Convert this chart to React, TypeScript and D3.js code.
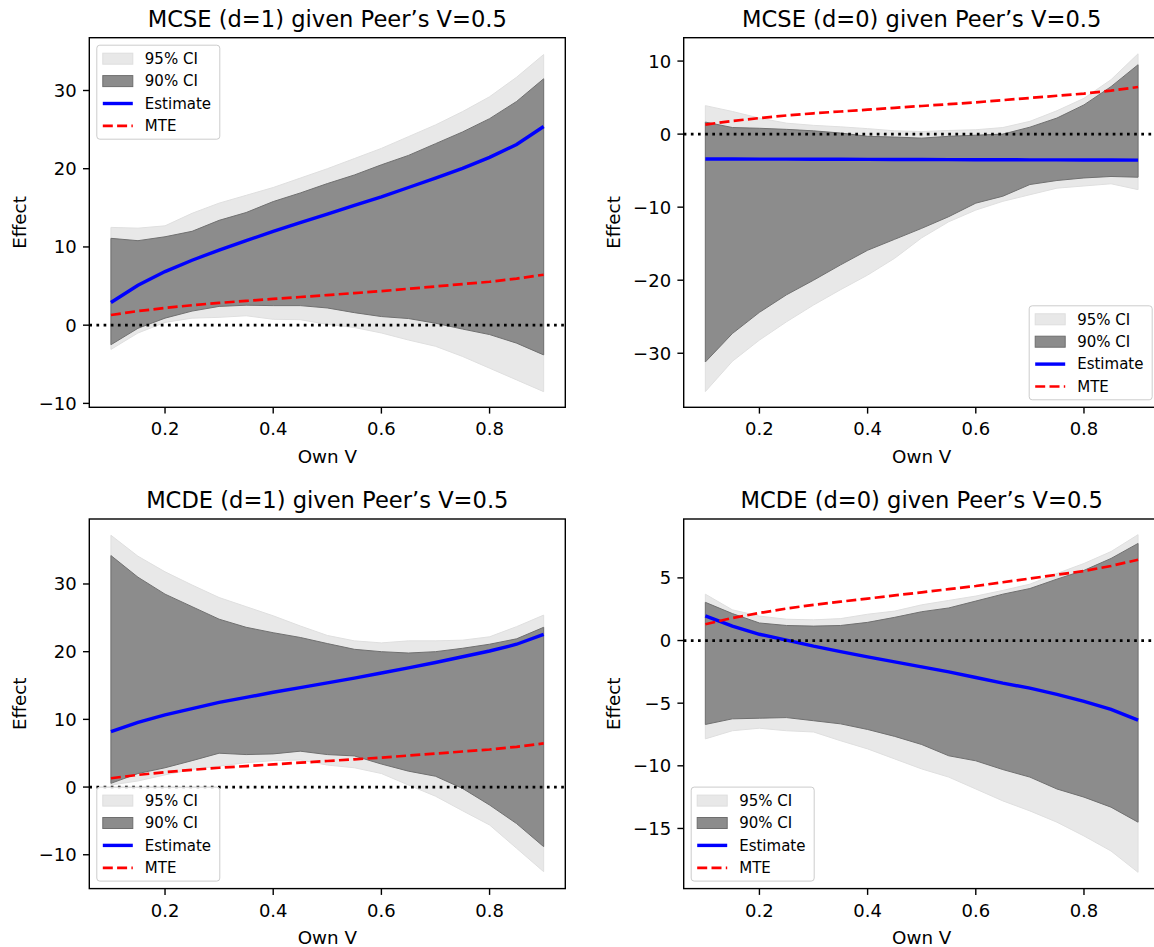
import * as d3 from 'd3';
import React from 'react';

// own V grid shared by every panel
const ownV = [0.1, 0.15, 0.2, 0.25, 0.3, 0.35, 0.4, 0.45, 0.5, 0.55, 0.6, 0.65, 0.7, 0.75, 0.8, 0.85, 0.9];
const mte = [1.3, 1.8, 2.2, 2.55, 2.85, 3.1, 3.35, 3.6, 3.85, 4.1, 4.35, 4.65, 4.95, 5.25, 5.55, 5.95, 6.45];

// MCSE d=1
const mcse1Est = [2.9, 5.1, 6.85, 8.3, 9.6, 10.8, 12.0, 13.1, 14.2, 15.3, 16.4, 17.6, 18.8, 20.05, 21.45, 23.1, 25.4];
const mcse1Hi90 = [11.1, 10.8, 11.3, 12.0, 13.4, 14.4, 15.8, 16.9, 18.1, 19.2, 20.5, 21.7, 23.2, 24.7, 26.4, 28.6, 31.5];
const mcse1Lo90 = [-2.5, -0.4, 0.9, 1.8, 2.4, 2.55, 2.5, 2.5, 2.2, 1.6, 1.1, 0.85, 0.25, -0.5, -1.2, -2.3, -3.8];
const mcse1Hi95 = [12.5, 12.4, 12.7, 14.3, 15.6, 16.6, 17.6, 18.8, 20.0, 21.3, 22.6, 24.1, 25.6, 27.3, 29.2, 31.7, 34.6];
const mcse1Lo95 = [-3.1, -1.0, 0.35, 0.9, 1.0, 1.2, 0.75, 0.7, 0.1, -0.3, -1.0, -1.9, -2.7, -4.0, -5.5, -7.0, -8.5];

// MCSE d=0
const mcse0Est = [-3.4, -3.41, -3.42, -3.43, -3.44, -3.45, -3.46, -3.47, -3.48, -3.49, -3.5, -3.51, -3.52, -3.53, -3.54, -3.55, -3.56];
const mcse0Hi90 = [1.65, 0.9, 0.8, 0.65, 0.45, 0.15, -0.3, -0.4, -0.55, -0.3, -0.15, 0, 0.95, 2.2, 4.0, 6.5, 9.5];
const mcse0Lo90 = [-31.2, -27.3, -24.4, -22.0, -20.0, -17.9, -15.9, -14.4, -12.9, -11.3, -9.45, -8.5, -6.9, -6.35, -6.0, -5.8, -5.9];
const mcse0Hi95 = [3.9, 3.1, 2.2, 1.5, 1.2, 1.0, 0.75, 0.45, 0.35, 0.5, 0.6, 0.9, 1.75, 3.2, 4.9, 7.45, 11.0];
const mcse0Lo95 = [-35.25, -31.1, -28.2, -25.7, -23.4, -21.3, -19.3, -17.0, -14.2, -12.0, -10.4, -9.2, -8.3, -7.4, -7.1, -6.8, -7.6];

// MCDE d=1
const mcde1Est = [8.2, 9.55, 10.65, 11.6, 12.5, 13.25, 14.0, 14.7, 15.4, 16.1, 16.85, 17.6, 18.4, 19.25, 20.1, 21.1, 22.55];
const mcde1Hi90 = [34.2, 31.0, 28.5, 26.65, 24.8, 23.6, 22.8, 22.1, 21.2, 20.35, 20.0, 19.8, 20.0, 20.5, 21.1, 21.9, 23.6];
const mcde1Lo90 = [0.55, 2.0, 2.85, 3.9, 5.0, 4.8, 4.9, 5.3, 4.8, 4.6, 3.4, 2.35, 1.6, -0.2, -2.65, -5.4, -8.8];
const mcde1Hi95 = [37.2, 34.1, 31.8, 29.85, 28.0, 26.65, 25.3, 23.8, 22.4, 21.6, 21.3, 21.6, 21.6, 21.7, 22.2, 23.7, 25.4];
const mcde1Lo95 = [0.3, 0.9, 1.8, 2.6, 3.1, 3.6, 3.9, 4.0, 3.25, 2.85, 2.0, 0.3, -1.35, -3.5, -5.6, -9.05, -12.5];

// MCDE d=0
const mcde0Est = [1.97, 1.15, 0.5, 0.03, -0.45, -0.88, -1.3, -1.7, -2.1, -2.5, -2.95, -3.4, -3.8, -4.3, -4.85, -5.5, -6.35];
const mcde0Hi90 = [3.05, 2.15, 1.4, 1.2, 1.15, 1.2, 1.45, 1.85, 2.3, 2.6, 3.15, 3.7, 4.15, 4.9, 5.6, 6.55, 7.75];
const mcde0Lo90 = [-6.7, -6.25, -6.2, -6.15, -6.4, -6.65, -7.1, -7.65, -8.3, -9.2, -9.6, -10.3, -10.9, -11.85, -12.5, -13.3, -14.5];
const mcde0Hi95 = [3.7, 2.45, 1.95, 1.7, 1.65, 1.75, 2.1, 2.35, 2.85, 3.2, 3.55, 4.0, 4.5, 5.35, 6.15, 7.1, 8.45];
const mcde0Lo95 = [-7.85, -7.2, -7.0, -7.2, -7.3, -8.0, -8.65, -9.45, -10.25, -10.9, -11.85, -12.8, -13.6, -14.5, -15.6, -16.8, -18.5];

const xTicks = [0.2, 0.4, 0.6, 0.8];
const legendLabels = ['95% CI', '90% CI', 'Estimate', 'MTE'];

const W = 1154;
const H = 947;
const AX_W = 476;
const AX_H = 369.6;
const FONT = 'DejaVu Sans, sans-serif';
const xDomain = [0.06, 0.94];

const panels = [
  { id: 'p1', title: 'MCSE (d=1) given Peer’s V=0.5', left: 89.3, top: 37.7, yDomain: [-10.5, 36.75], yTicks: [-10, 0, 10, 20, 30], legend: 'ul',
    est: mcse1Est, hi90: mcse1Hi90, lo90: mcse1Lo90, hi95: mcse1Hi95, lo95: mcse1Lo95 },
  { id: 'p2', title: 'MCSE (d=0) given Peer’s V=0.5', left: 683.7, top: 37.7, yDomain: [-37.4, 13.2], yTicks: [-30, -20, -10, 0, 10], legend: 'lr',
    est: mcse0Est, hi90: mcse0Hi90, lo90: mcse0Lo90, hi95: mcse0Hi95, lo95: mcse0Lo95 },
  { id: 'p3', title: 'MCDE (d=1) given Peer’s V=0.5', left: 89.3, top: 519, yDomain: [-15.0, 39.6], yTicks: [-10, 0, 10, 20, 30], legend: 'll',
    est: mcde1Est, hi90: mcde1Hi90, lo90: mcde1Lo90, hi95: mcde1Hi95, lo95: mcde1Lo95 },
  { id: 'p4', title: 'MCDE (d=0) given Peer’s V=0.5', left: 683.7, top: 519, yDomain: [-19.8, 9.7], yTicks: [-15, -10, -5, 0, 5], legend: 'll',
    est: mcde0Est, hi90: mcde0Hi90, lo90: mcde0Lo90, hi95: mcde0Hi95, lo95: mcde0Lo95 },
];

const fmtY = (v: number) => (v < 0 ? '\u2212' + Math.abs(v) : String(v));

const LW = 123;
const LH = 94;

function Legend({ left, top, pos }: { left: number; top: number; pos: string }) {
  const bx = pos === 'lr' ? left + AX_W - 7.5 - LW : left + 7.5;
  const by = pos === 'ul' ? top + 7.5 : top + AX_H - 7.5 - LH;
  const rowY = (i: number) => by + 13.5 + i * 22.4;
  return (
    <g>
      <rect x={bx} y={by} width={LW} height={LH} rx={3} fill="#fff" fillOpacity={0.8} stroke="#cccccc" strokeWidth={1} />
      <rect x={bx + 6} y={rowY(0) - 5.5} width={30} height={11} fill="#e8e8e8" stroke="#dedede" strokeWidth={1} />
      <rect x={bx + 6} y={rowY(1) - 5.5} width={30} height={11} fill="#8c8c8c" stroke="#6e6e6e" strokeWidth={1} />
      <line x1={bx + 6} x2={bx + 36} y1={rowY(2)} y2={rowY(2)} stroke="#0000ff" strokeWidth={3.4} />
      <line x1={bx + 6} x2={bx + 36} y1={rowY(3)} y2={rowY(3)} stroke="#ff0000" strokeWidth={2.7} strokeDasharray="10,4.3" />
      {legendLabels.map((t, i) => (
        <text key={t} x={bx + 48} y={rowY(i) + 5.3} fontSize={15} fontFamily={FONT} fill="#000">{t}</text>
      ))}
    </g>
  );
}

function Panel({ p }: { p: any }) {
  const x = d3.scaleLinear().domain(xDomain).range([p.left, p.left + AX_W]);
  const y = d3.scaleLinear().domain(p.yDomain).range([p.top + AX_H, p.top]);
  const band = (lo: number[], hi: number[]) =>
    d3.area<number>().x((d) => x(d)).y0((_, i) => y(lo[i])).y1((_, i) => y(hi[i]))(ownV) || '';
  const line = (vals: number[]) => d3.line<number>().x((d) => x(d)).y((_, i) => y(vals[i]))(ownV) || '';
  const bottom = p.top + AX_H;
  const cx = p.left + AX_W / 2;
  const cy = p.top + AX_H / 2;
  return (
    <g>
      <defs>
        <clipPath id={`clip-${p.id}`}>
          <rect x={p.left} y={p.top} width={AX_W} height={AX_H} />
        </clipPath>
      </defs>
      <g clipPath={`url(#clip-${p.id})`}>
        <path d={band(p.lo95, p.hi95)} fill="#e8e8e8" stroke="#dfdfdf" strokeWidth={1} />
        <path d={band(p.lo90, p.hi90)} fill="#8c8c8c" stroke="#707070" strokeWidth={1} />
        <path d={line(p.est)} fill="none" stroke="#0000ff" strokeWidth={3.4} />
        <path d={line(mte)} fill="none" stroke="#ff0000" strokeWidth={2.7} strokeDasharray="10,4.3" />
        <line x1={p.left} x2={p.left + AX_W} y1={y(0)} y2={y(0)} stroke="#000" strokeWidth={2.7} strokeDasharray="2.7,4.45" />
      </g>
      <rect x={p.left} y={p.top} width={AX_W} height={AX_H} fill="none" stroke="#000" strokeWidth={1.4} />
      {xTicks.map((t) => (
        <g key={t}>
          <line x1={x(t)} x2={x(t)} y1={bottom} y2={bottom + 6.3} stroke="#000" strokeWidth={1.4} />
          <text x={x(t)} y={bottom + 28} textAnchor="middle" fontSize={18} fontFamily={FONT} fill="#000">{t.toFixed(1)}</text>
        </g>
      ))}
      {p.yTicks.map((t: number) => (
        <g key={t}>
          <line x1={p.left - 6.3} x2={p.left} y1={y(t)} y2={y(t)} stroke="#000" strokeWidth={1.4} />
          <text x={p.left - 12.6} y={y(t) + 6.5} textAnchor="end" fontSize={18} fontFamily={FONT} fill="#000">{fmtY(t)}</text>
        </g>
      ))}
      <text x={cx} y={p.top - 11} textAnchor="middle" fontSize={22.6} fontFamily={FONT} fill="#000">{p.title}</text>
      <text x={cx} y={bottom + 55.5} textAnchor="middle" fontSize={18.3} fontFamily={FONT} fill="#000">Own V</text>
      <text transform={`translate(${p.left - 63.5},${cy}) rotate(-90)`} textAnchor="middle" fontSize={18.3} fontFamily={FONT} fill="#000">Effect</text>
      <Legend left={p.left} top={p.top} pos={p.legend} />
    </g>
  );
}

export default function App() {
  return (
    <svg width={W} height={H} viewBox={`0 0 ${W} ${H}`} style={{ position: 'absolute', left: 0, top: 0, background: '#fff' }}>
      <rect x={0} y={0} width={W} height={H} fill="#fff" />
      {panels.map((p) => (
        <Panel key={p.id} p={p} />
      ))}
    </svg>
  );
}
